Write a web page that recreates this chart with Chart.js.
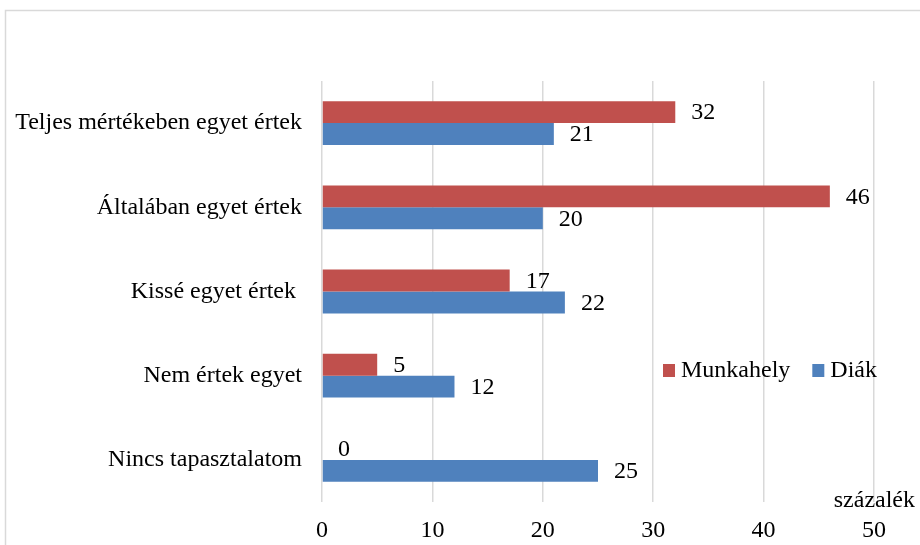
<!DOCTYPE html>
<html>
<head>
<meta charset="utf-8">
<script src="https://cdn.jsdelivr.net/npm/chart.js@4.4.1/dist/chart.umd.min.js"></script>
<style>
  html, body { margin: 0; padding: 0; background: #ffffff; }
  #wrap { width: 920px; height: 545px; position: relative; }
</style>
</head>
<body>
<div id="wrap"><canvas id="chart" width="920" height="545"></canvas></div>
<script>
// Answers per category, in percent
const categories = [
  'Teljes mértékeben egyet értek',
  'Általában egyet értek',
  'Kissé egyet értek ',
  'Nem értek egyet',
  'Nincs tapasztalatom'
];
const munkahelyValues = [32, 46, 17, 5, 0];
const diakValues = [21, 20, 22, 12, 25];
const seriesNames = ['Munkahely', 'Diák'];
const xTicks = [0, 10, 20, 30, 40, 50];
const axisUnit = 'százalék';

const FONT = '"Liberation Serif", "Times New Roman", serif';
const FONT_SIZE = 24;
const RED = '#c0504d';
const BLUE = '#4f81bd';
const GRID = '#d9d9d9';

// Outer frame of the chart object
const framePlugin = {
  id: 'frame',
  beforeDraw(chart) {
    const ctx = chart.ctx;
    ctx.save();
    ctx.fillStyle = '#ffffff';
    ctx.fillRect(0, 0, chart.width, chart.height);
    ctx.strokeStyle = GRID;
    ctx.lineWidth = 1.5;
    ctx.beginPath();
    ctx.moveTo(5.5, chart.height + 2);
    ctx.lineTo(5.5, 10.5);
    ctx.lineTo(chart.width + 2, 10.5);
    ctx.stroke();
    ctx.restore();
  }
};

// Value labels to the right of each bar
const valueLabelPlugin = {
  id: 'valueLabels',
  afterDatasetsDraw(chart) {
    const ctx = chart.ctx;
    ctx.save();
    ctx.font = FONT_SIZE + 'px ' + FONT;
    ctx.fillStyle = '#000000';
    ctx.textAlign = 'left';
    ctx.textBaseline = 'middle';
    chart.data.datasets.forEach((ds, di) => {
      const meta = chart.getDatasetMeta(di);
      meta.data.forEach((bar, i) => {
        const v = ds.data[i];
        ctx.fillText(String(v), bar.x + 16, bar.y + 1);
      });
    });
    ctx.restore();
  }
};

// Legend inside the plot area, and the axis unit label
const legendPlugin = {
  id: 'innerLegend',
  afterDraw(chart) {
    const ctx = chart.ctx;
    ctx.save();
    ctx.font = FONT_SIZE + 'px ' + FONT;
    ctx.textBaseline = 'middle';
    ctx.textAlign = 'left';
    let x = 663;
    const y = 371;
    chart.data.datasets.forEach(ds => {
      ctx.fillStyle = ds.backgroundColor;
      ctx.fillRect(x, y - 7, 12, 13);
      ctx.fillStyle = '#000000';
      ctx.fillText(ds.label, x + 18, y);
      x += 18 + ctx.measureText(ds.label).width + 22;
    });
    ctx.textAlign = 'right';
    ctx.textBaseline = 'alphabetic';
    ctx.fillText(axisUnit, 915, 507);
    ctx.restore();
  }
};

new Chart(document.getElementById('chart'), {
  type: 'bar',
  data: {
    labels: categories,
    datasets: [
      { label: seriesNames[0], data: munkahelyValues, backgroundColor: RED },
      { label: seriesNames[1], data: diakValues, backgroundColor: BLUE }
    ]
  },
  options: {
    indexAxis: 'y',
    responsive: false,
    animation: false,
    maintainAspectRatio: false,
    layout: { padding: { left: 0, top: 81, right: 46, bottom: 0 } },
    datasets: { bar: { categoryPercentage: 0.52, barPercentage: 1.0 } },
    plugins: {
      legend: { display: false },
      tooltip: { enabled: false },
      title: { display: false }
    },
    scales: {
      x: {
        min: 0,
        max: 50,
        afterBuildTicks(scale) { scale.ticks = xTicks.map(v => ({ value: v })); },
        afterFit(scale) { scale.height = 43; },
        grid: { color: GRID, lineWidth: 1.5, drawTicks: false },
        border: { display: false },
        ticks: { color: '#000000', font: { family: FONT, size: FONT_SIZE }, padding: 14, maxRotation: 0 }
      },
      y: {
        afterFit(scale) { scale.width = 322; },
        grid: { display: false, drawTicks: false },
        border: { display: false },
        ticks: { color: '#000000', font: { family: FONT, size: FONT_SIZE }, padding: 20 }
      }
    }
  },
  plugins: [framePlugin, valueLabelPlugin, legendPlugin]
});
</script>
</body>
</html>
